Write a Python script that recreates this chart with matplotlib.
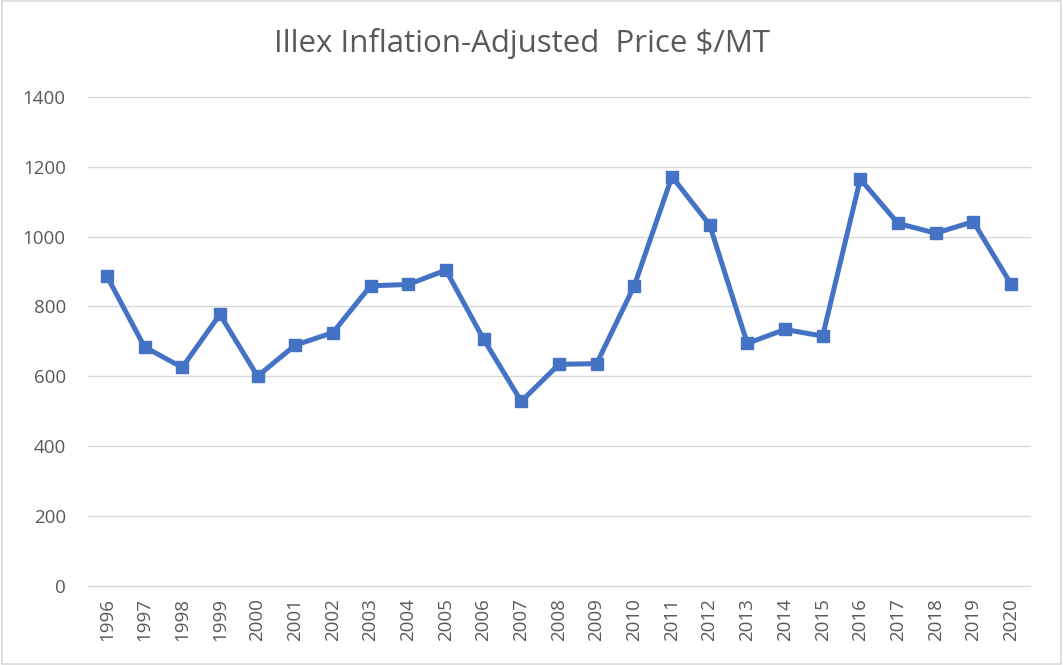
import numpy as np
import matplotlib
matplotlib.use("Agg")
import matplotlib.pyplot as plt
from matplotlib.patches import Rectangle

years = [str(y) for y in range(1996, 2021)]
price = [887, 684, 625, 777, 600, 689, 725, 859, 863, 904, 706, 528, 634,
         636, 859, 1172, 1034, 694, 734, 715, 1165, 1038, 1010, 1043, 864]

plt.rcParams["font.family"] = ["Open Sans", "DejaVu Sans"]

fig = plt.figure(figsize=(10.63, 6.65), dpi=100)
ax = fig.add_axes([0.0828, 0.1195, 0.886, 0.7345])

x = np.arange(len(years))
ax.plot(x, price, color="#4472C4", lw=3.6, marker="s", ms=9, zorder=3)

ax.set_xlim(-0.5, len(years) - 0.5)
ax.set_ylim(0, 1400)
ax.set_yticks(range(0, 1401, 200))
ax.set_xticks(x)
ax.set_xticklabels(years, rotation=90)
ax.grid(axis="y", color="#D9D9D9", lw=1)
for gl in ax.get_ygridlines():
    gl.set_clip_on(False)
ax.set_axisbelow(True)
for s in ax.spines.values():
    s.set_visible(False)
ax.tick_params(length=0, labelsize=13.5, colors="#595959")
ax.tick_params(axis="y", pad=16)
ax.tick_params(axis="x", pad=9)

fig.text(0.491, 0.935, "Illex Inflation-Adjusted  Price $/MT", ha="center", va="center",
         fontsize=22.5, color="#595959")

fig.patches.append(Rectangle((0.002, 0.002), 0.996, 0.996, transform=fig.transFigure,
                             fill=False, edgecolor="#D9D9D9", lw=1.2))

fig.savefig("out.png", dpi=100)
